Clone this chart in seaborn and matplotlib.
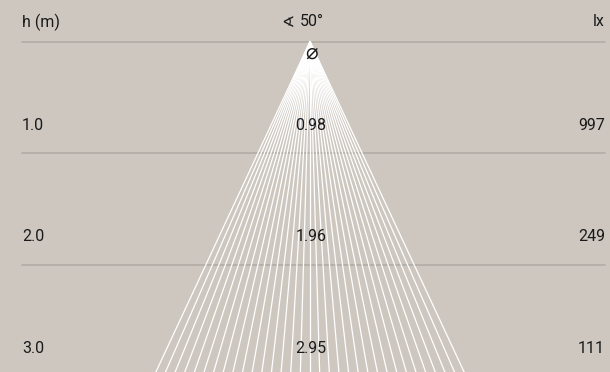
import numpy as np
import pandas as pd
import matplotlib.pyplot as plt
import seaborn as sns

heights = [1.0, 2.0, 3.0]
diameters = ['0.98', '1.96', '2.95']
lux = ['997', '249', '111']
beam_angle = 50
n_rays = 33

BG = '#cdc7c0'
GRID = '#b3afa8'
TXT = '#1a1a1a'

sns.set_theme(style='white')
plt.rcParams['font.family'] = ['Roboto', 'DejaVu Sans']

# rays from the apex, spread over the beam angle
half = np.tan(np.radians(beam_angle / 2))
spread = np.linspace(-half, half, n_rays)
depth = max(heights) + 0.2
rays = pd.DataFrame({
    'ray': np.repeat(np.arange(n_rays), 2),
    'x': np.ravel([[0, s * depth] for s in spread]),
    'y': np.tile([0, depth], n_rays),
})

fig = plt.figure(figsize=(6.1, 3.72), dpi=100, facecolor=BG)
ax = fig.add_axes([0, 0, 1, 1])
ax.set_facecolor(BG)

scale = 111.5  # px per metre
x0, x1 = -310 / scale, 300 / scale
y_top, y_bot = -41.5 / scale, (372 - 41.5) / scale
left, right = -288 / scale, 295 / scale

for h in [0] + heights:
    ax.plot([left, right], [h, h], color=GRID, lw=1.3, zorder=1)

sns.lineplot(data=rays, x='x', y='y', units='ray', estimator=None,
             color='white', lw=0.9, ax=ax, zorder=2, legend=False)

fs = 11.5
ax.text(left, -0.175, 'h (m)', ha='left', va='center', fontsize=fs, color=TXT)
ax.text(-0.2, -0.17, '\u2222', ha='center', va='center', fontsize=11,
        color=TXT, family=['DejaVu Sans'])
ax.text(0.02, -0.175, '50\u00b0', ha='center', va='center', fontsize=fs, color=TXT)
ax.text(right, -0.175, 'lx', ha='right', va='center', fontsize=fs, color=TXT)
ax.text(0.01, 0.1, '\u2300', ha='center', va='center', fontsize=15,
        color=TXT, family=['DejaVu Sans'], zorder=3)

for h, d, l in zip(heights, diameters, lux):
    y = h - 0.25
    ax.text(left, y, f'{h:.1f}', ha='left', va='center', fontsize=fs, color=TXT)
    ax.text(0.01, y, d, ha='center', va='center', fontsize=fs, color=TXT, zorder=3)
    ax.text(right, y, l, ha='right', va='center', fontsize=fs, color=TXT)

ax.set_xlim(x0, x1)
ax.set_ylim(y_bot, y_top)
ax.axis('off')

fig.savefig('out.png', dpi=100, facecolor=BG)
